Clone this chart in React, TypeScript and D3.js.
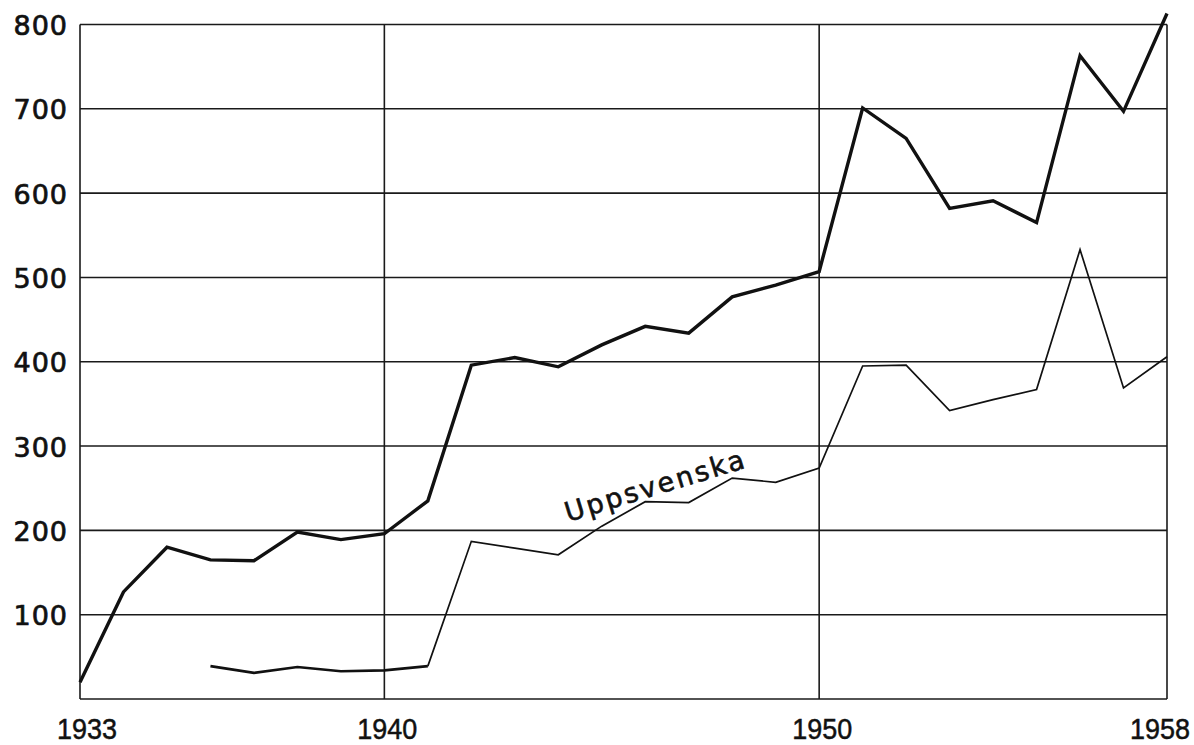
import React, { useEffect, useRef } from "react";
import * as d3 from "d3";

// total series (thick line), 1933-1958
const totalYears = d3.range(1933, 1959);
const totalValues = [
  20, 127, 180, 165, 164, 198, 189, 196, 235, 396, 405, 394, 420, 442, 434,
  477, 491, 507, 701, 665, 582, 591, 565, 763, 697, 813,
];

// Uppsvenska series (thin line), 1936-1958
const uppYears = d3.range(1936, 1959);
const uppValues = [
  39, 31, 38, 33, 34, 39, 187, 179, 171, 205, 234, 233, 262, 257, 274, 395,
  396, 342, 355, 367, 533, 369, 406,
];

const yTicks = [100, 200, 300, 400, 500, 600, 700, 800];
const xGridYears = [1933, 1940, 1950, 1958];
const xTickLabels = ["1933", "1940", "1950", "1958"];
const seriesLabel = "Uppsvenska";

const W = 1194;
const H = 745;

const App: React.FC = () => {
  const ref = useRef<SVGSVGElement>(null);

  useEffect(() => {
    if (!ref.current) return;
    const svg = d3.select(ref.current);
    svg.selectAll("*").remove();

    const x = d3.scaleLinear().domain([1933, 1958]).range([80, 1167]);
    const y = d3.scaleLinear().domain([0, 800]).range([699, 24.5]);

    svg.append("rect").attr("width", W).attr("height", H).attr("fill", "#fff");

    const grid = svg.append("g").attr("stroke", "#1a1a1a").attr("stroke-width", 1.6);

    // horizontal grid lines incl. the base line
    grid
      .selectAll("line.h")
      .data([0, ...yTicks])
      .enter()
      .append("line")
      .attr("x1", x(1933))
      .attr("x2", x(1958))
      .attr("y1", (d) => y(d))
      .attr("y2", (d) => y(d));

    // vertical grid lines
    grid
      .selectAll("line.v")
      .data(xGridYears)
      .enter()
      .append("line")
      .attr("x1", (d) => x(d))
      .attr("x2", (d) => x(d))
      .attr("y1", y(800))
      .attr("y2", y(0));

    // y tick labels
    svg
      .append("g")
      .selectAll("text")
      .data(yTicks)
      .enter()
      .append("text")
      .attr("x", 68)
      .attr("y", (d) => y(d) + 3)
      .attr("text-anchor", "end")
      .attr("dominant-baseline", "middle")
      .attr("font-family", "'DejaVu Sans', sans-serif")
      .attr("font-size", 27)
      .attr("letter-spacing", 1)
      .attr("fill", "#111")
      .attr("stroke", "#111")
      .attr("stroke-width", 0.7)
      .text((d) => d);

    // x tick labels, condensed like the original lettering
    svg
      .append("g")
      .selectAll("text")
      .data(xGridYears)
      .enter()
      .append("text")
      .attr("x", (d, i) => (i === 0 ? x(d) - 23 : i === 3 ? x(d) - 37 : x(d) - 27))
      .attr("y", 739)
      .attr("textLength", 60)
      .attr("lengthAdjust", "spacingAndGlyphs")
      .attr("font-family", "'Liberation Sans', sans-serif")
      .attr("font-size", 29)
      .attr("fill", "#111")
      .attr("stroke", "#111")
      .attr("stroke-width", 0.5)
      .text((d, i) => xTickLabels[i]);

    const line = d3
      .line<[number, number]>()
      .x((d) => x(d[0]))
      .y((d) => y(d[1]));

    const total: [number, number][] = totalYears.map((yr, i) => [yr, totalValues[i]]);
    const upp: [number, number][] = uppYears.map((yr, i) => [yr, uppValues[i]]);

    svg
      .append("path")
      .attr("d", line(total))
      .attr("fill", "none")
      .attr("stroke", "#111")
      .attr("stroke-width", 3.4)
      .attr("stroke-linejoin", "miter");

    // early part of Uppsvenska is drawn a bit heavier
    svg
      .append("path")
      .attr("d", line(upp.filter((d) => d[0] <= 1941)))
      .attr("fill", "none")
      .attr("stroke", "#111")
      .attr("stroke-width", 2.6);

    svg
      .append("path")
      .attr("d", line(upp.filter((d) => d[0] >= 1941)))
      .attr("fill", "none")
      .attr("stroke", "#111")
      .attr("stroke-width", 1.7);

    svg
      .append("text")
      .attr("transform", "translate(568,522) rotate(-17)")
      .attr("font-family", "'DejaVu Sans', sans-serif")
      .attr("font-size", 27)
      .attr("letter-spacing", 2.5)
      .attr("fill", "#111")
      .attr("stroke", "#111")
      .attr("stroke-width", 0.6)
      .text(seriesLabel);
  }, []);

  return (
    <svg
      ref={ref}
      width={W}
      height={H}
      viewBox={`0 0 ${W} ${H}`}
      style={{ position: "absolute", left: 0, top: 0, display: "block" }}
    />
  );
};

export default App;
